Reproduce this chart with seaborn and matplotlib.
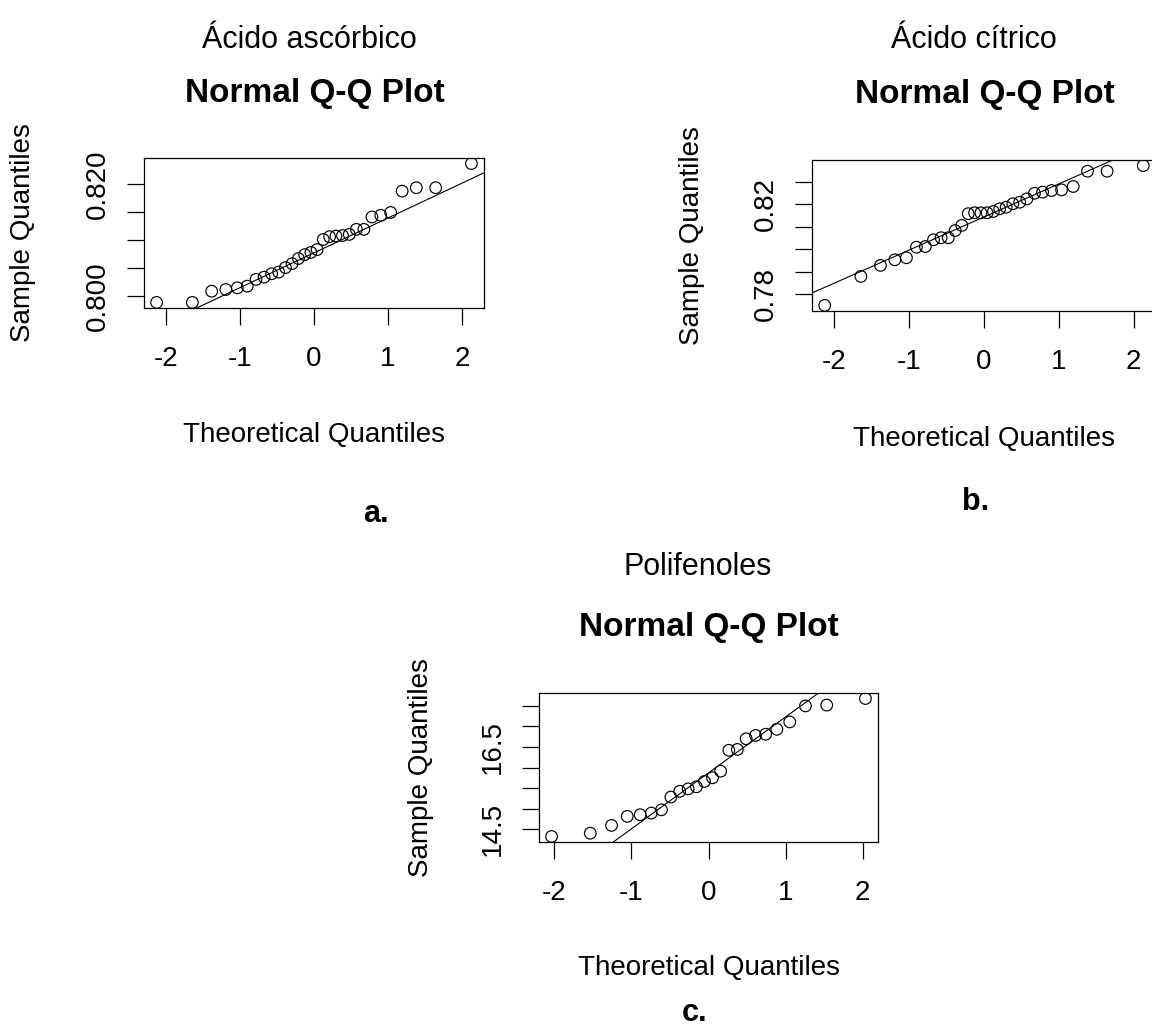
import numpy as np
import pandas as pd
import matplotlib
matplotlib.use("Agg")
import matplotlib.pyplot as plt
import seaborn as sns
from statistics import NormalDist

# ---- data (sample values, sorted) ----
acido_ascorbico = [0.7989, 0.7989, 0.8009, 0.8012, 0.8015, 0.8018, 0.8030, 0.8034,
                   0.8040, 0.8043, 0.8051, 0.8058, 0.8067, 0.8074, 0.8078, 0.8083,
                   0.8101, 0.8106, 0.8107, 0.8108, 0.8110, 0.8119, 0.8119, 0.8141,
                   0.8144, 0.8149, 0.8187, 0.8193, 0.8193, 0.8236]
acido_citrico = [0.7751, 0.7880, 0.7929, 0.7954, 0.7963, 0.8010, 0.8013, 0.8043,
                 0.8052, 0.8052, 0.8084, 0.8107, 0.8159, 0.8163, 0.8163, 0.8163,
                 0.8169, 0.8181, 0.8188, 0.8203, 0.8210, 0.8225, 0.8250, 0.8255,
                 0.8262, 0.8265, 0.8280, 0.8348, 0.8348, 0.8373]
polifenoles = [14.32, 14.40, 14.59, 14.81, 14.85, 14.89, 14.97, 15.28, 15.42, 15.48,
               15.53, 15.66, 15.75, 15.91, 16.42, 16.44, 16.70, 16.78, 16.81, 16.93,
               17.11, 17.50, 17.52, 17.68]

panel_titles = ["Ácido ascórbico", "Ácido cítrico", "Polifenoles"]
panel_letters = ["a.", "b.", "c."]
main_title = "Normal Q-Q Plot"
x_label = "Theoretical Quantiles"
y_label = "Sample Quantiles"
x_ticks = [-2, -1, 0, 1, 2]
x_ticklabels = ["-2", "-1", "0", "1", "2"]
y_ticks_a = [0.800, 0.805, 0.810, 0.815, 0.820]
y_ticklabels_a = ["0.800", "", "", "", "0.820"]
y_ticks_b = [0.78, 0.79, 0.80, 0.81, 0.82, 0.83]
y_ticklabels_b = ["0.78", "", "", "", "0.82", ""]
y_ticks_c = [14.5, 15.0, 15.5, 16.0, 16.5, 17.0, 17.5]
y_ticklabels_c = ["14.5", "", "", "", "16.5", "", ""]

sns.set_theme(style="white")
plt.rcParams['font.family'] = ['Liberation Sans', 'DejaVu Sans']
plt.rcParams['axes.unicode_minus'] = False

W, H = 1152, 1029
fig = plt.figure(figsize=(W / 100, H / 100), dpi=100)
fig.patch.set_facecolor('white')


def px_rect(left, top, right, bottom):
    return [left / W, 1 - bottom / H, (right - left) / W, (bottom - top) / H]


def fig_xy(x, y):
    return x / W, 1 - y / H


def ppoints(n):
    a = 3 / 8 if n <= 10 else 0.5
    return [(i + 1 - a) / (n + 1 - 2 * a) for i in range(n)]


def rlim(v):
    lo, hi = min(v), max(v)
    d = (hi - lo) * 0.04
    return lo - d, hi + d


nd = NormalDist()

# layout (pixel boxes): left, top, right, bottom
panels = [
    dict(values=acido_ascorbico, box=(144, 158, 484, 308), yt=y_ticks_a, ytl=y_ticklabels_a,
         title=panel_titles[0], letter=panel_letters[0],
         title_xy=(309, 48), main_xy=(315, 102), xl_base=441.7, yl_x=23, letter_xy=(376, 522)),
    dict(values=acido_citrico, box=(812, 160, 1156, 311), yt=y_ticks_b, ytl=y_ticklabels_b,
         title=panel_titles[1], letter=panel_letters[1],
         title_xy=(974, 48), main_xy=(985, 103), xl_base=446, yl_x=692, letter_xy=(976, 510)),
    dict(values=polifenoles, box=(539, 693, 878, 842), yt=y_ticks_c, ytl=y_ticklabels_c,
         title=panel_titles[2], letter=panel_letters[2],
         title_xy=(698, 575), main_xy=(709, 636), xl_base=975, yl_x=421, letter_xy=(695, 1021)),
]

for p in panels:
    left, top, right, bottom = p["box"]
    wpx, hpx = right - left, bottom - top
    ax = fig.add_axes(px_rect(left, top, right, bottom))
    y = np.sort(np.array(p["values"]))
    x = np.array([nd.inv_cdf(q) for q in ppoints(len(y))])
    df = pd.DataFrame({"Theoretical": x, "Sample": y})
    sns.scatterplot(data=df, x="Theoretical", y="Sample", ax=ax, marker="o", s=70,
                    facecolors="none", edgecolor="black", linewidth=0.85, zorder=3)
    qy = np.quantile(y, [0.25, 0.75])
    qx = [nd.inv_cdf(0.25), nd.inv_cdf(0.75)]
    ax.axline((qx[0], qy[0]), (qx[1], qy[1]), color="black", lw=0.8, zorder=2)
    ax.set_xlim(rlim(x))
    ax.set_ylim(rlim(y))
    ax.set_xticks(x_ticks)
    ax.set_xticklabels(x_ticklabels)
    ax.set_yticks(p["yt"])
    ax.set_yticklabels(p["ytl"], rotation=90, va="center")
    ax.tick_params(axis="both", direction="out", length=12.2, width=0.9, color="black",
                   labelsize=20, labelcolor="black", bottom=True, left=True, top=False, right=False)
    ax.tick_params(axis="x", pad=15)
    ax.tick_params(axis="y", pad=11.5)
    for s in ax.spines.values():
        s.set_color("black")
        s.set_linewidth(0.9)
    ax.set_xlabel(x_label, fontsize=20, color="black", va="baseline")
    ax.xaxis.set_label_coords(0.5, (bottom - p["xl_base"]) / hpx)
    ax.set_ylabel(y_label, fontsize=20, color="black", va="center", ha="center")
    ax.yaxis.set_label_coords((p["yl_x"] - left) / wpx, 0.5)
    ax.grid(False)

    tx, ty = fig_xy(*p["title_xy"])
    fig.text(tx, ty, p["title"], fontsize=22, ha="center", va="baseline", color="black")
    mx, my = fig_xy(*p["main_xy"])
    fig.text(mx, my, main_title, fontsize=24, fontweight="bold", ha="center", va="baseline", color="black")
    lx, ly = fig_xy(*p["letter_xy"])
    fig.text(lx, ly, p["letter"], fontsize=22, fontweight="bold", ha="center", va="baseline", color="black")

fig.savefig("out.png", dpi=100, facecolor="white")
